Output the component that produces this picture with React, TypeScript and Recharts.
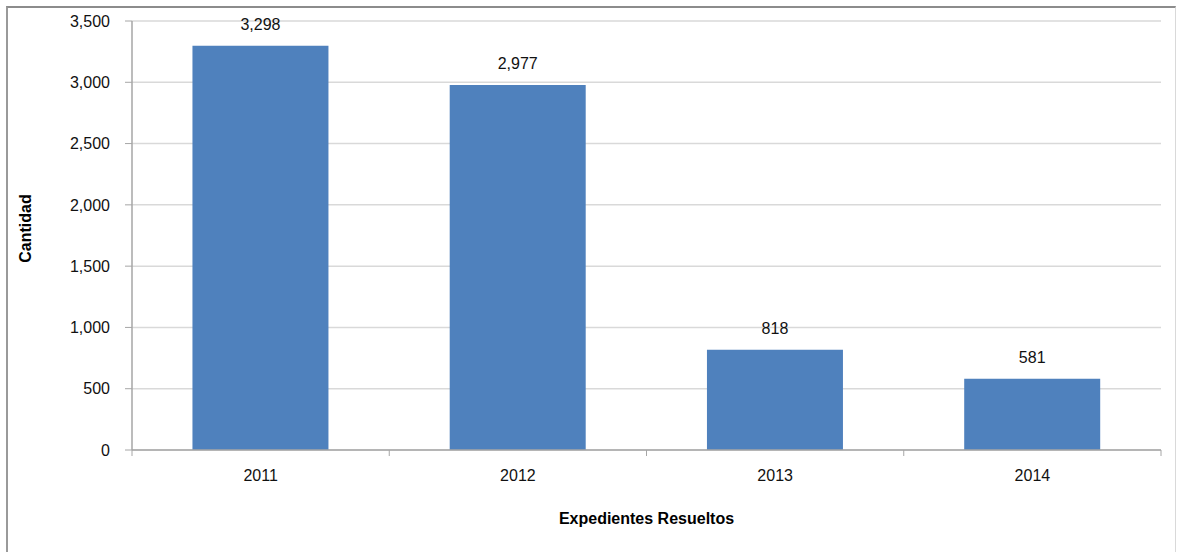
import React from 'react';
import {
  BarChart, Bar, XAxis, YAxis, CartesianGrid, LabelList, Label,
} from 'recharts';

const YEARS = ['2011', '2012', '2013', '2014'];
const RESUELTOS = [3298, 2977, 818, 581];
const Y_TICKS = [0, 500, 1000, 1500, 2000, 2500, 3000, 3500];

const CHART_W = 1178;
const CHART_H = 552;
const LEFT_W = 132;
const RIGHT_M = 17;
const PLOT_W = CHART_W - LEFT_W - RIGHT_M;

const FONT = '"Liberation Sans", Arial, sans-serif';
const fmt = (v: number) => v.toLocaleString('en-US');

const data = YEARS.map((year, i) => ({ year, value: RESUELTOS[i] }));

// category labels in the middle, tick marks on the category boundaries
const YearTick = (props: any) => {
  const { x, y, payload, index } = props;
  const half = PLOT_W / YEARS.length / 2;
  return (
    <g>
      <line x1={x - half} x2={x - half} y1={y} y2={y + 6} stroke="#a6a6a6" />
      {index === YEARS.length - 1 && (
        <line x1={x + half} x2={x + half} y1={y} y2={y + 6} stroke="#a6a6a6" />
      )}
      <text x={x} y={y + 31} textAnchor="middle" fontSize={16} fill="#111" fontFamily={FONT}>
        {payload.value}
      </text>
    </g>
  );
};

const XTitle = (props: any) => {
  const { viewBox } = props;
  return (
    <text
      x={viewBox.x + viewBox.width / 2}
      y={viewBox.y + 74}
      textAnchor="middle"
      fontSize={16}
      fontWeight="bold"
      fill="#000"
      fontFamily={FONT}
    >
      Expedientes Resueltos
    </text>
  );
};

const YTitle = (props: any) => {
  const { viewBox } = props;
  const cy = viewBox.y + viewBox.height / 2 - 7;
  return (
    <text
      x={31}
      y={cy}
      transform={`rotate(-90 31 ${cy})`}
      textAnchor="middle"
      fontSize={16}
      fontWeight="bold"
      fill="#000"
      fontFamily={FONT}
    >
      Cantidad
    </text>
  );
};

export default function App() {
  return (
    <div style={{ position: 'fixed', left: 0, top: 0, width: CHART_W, height: CHART_H, background: '#fff', overflow: 'hidden' }}>
      {/* outer chart frame */}
      <div
        style={{
          position: 'absolute', left: 6, top: 6, width: 1170, height: 560,
          borderTop: '2px solid #8c8c8c', borderLeft: '2px solid #9a9a9a',
          borderRight: '1px solid #d9d9d9', boxSizing: 'border-box',
        }}
      />
      <div style={{ position: 'absolute', left: 0, top: 0 }}>
        <BarChart
          width={CHART_W}
          height={CHART_H}
          data={data}
          margin={{ top: 21, right: RIGHT_M, bottom: 0, left: 0 }}
          barCategoryGap="23.5%"
        >
          <CartesianGrid vertical={false} stroke="#d9d9d9" strokeWidth={1.5} />
          <XAxis
            dataKey="year"
            height={CHART_H - 21 - 429}
            axisLine={{ stroke: '#a6a6a6', strokeWidth: 1.5 }}
            tickLine={false}
            tickSize={0}
            tickMargin={0}
            tick={<YearTick />}
            interval={0}
          >
            <Label content={<XTitle />} />
          </XAxis>
          <YAxis
            width={LEFT_W}
            domain={[0, 3500]}
            ticks={Y_TICKS}
            tickFormatter={fmt}
            axisLine={{ stroke: '#a6a6a6', strokeWidth: 1.5 }}
            tickLine={{ stroke: '#a6a6a6' }}
            tickSize={7}
            tickMargin={15}
            tick={{ fontSize: 16, fill: '#111', fontFamily: FONT }}
          >
            <Label content={<YTitle />} />
          </YAxis>
          <YAxis
            yAxisId="frame"
            orientation="right"
            width={0}
            tick={false}
            tickLine={false}
            axisLine={{ stroke: '#c8c8c8', strokeWidth: 1.5 }}
          />
          <Bar dataKey="value" fill="#4f81bd" isAnimationActive={false}>
            <LabelList
              dataKey="value"
              position="top"
              offset={16}
              formatter={(v: any) => fmt(Number(v))}
              style={{ fontSize: 16, fill: '#111', fontFamily: FONT }}
            />
          </Bar>
        </BarChart>
      </div>
    </div>
  );
}
